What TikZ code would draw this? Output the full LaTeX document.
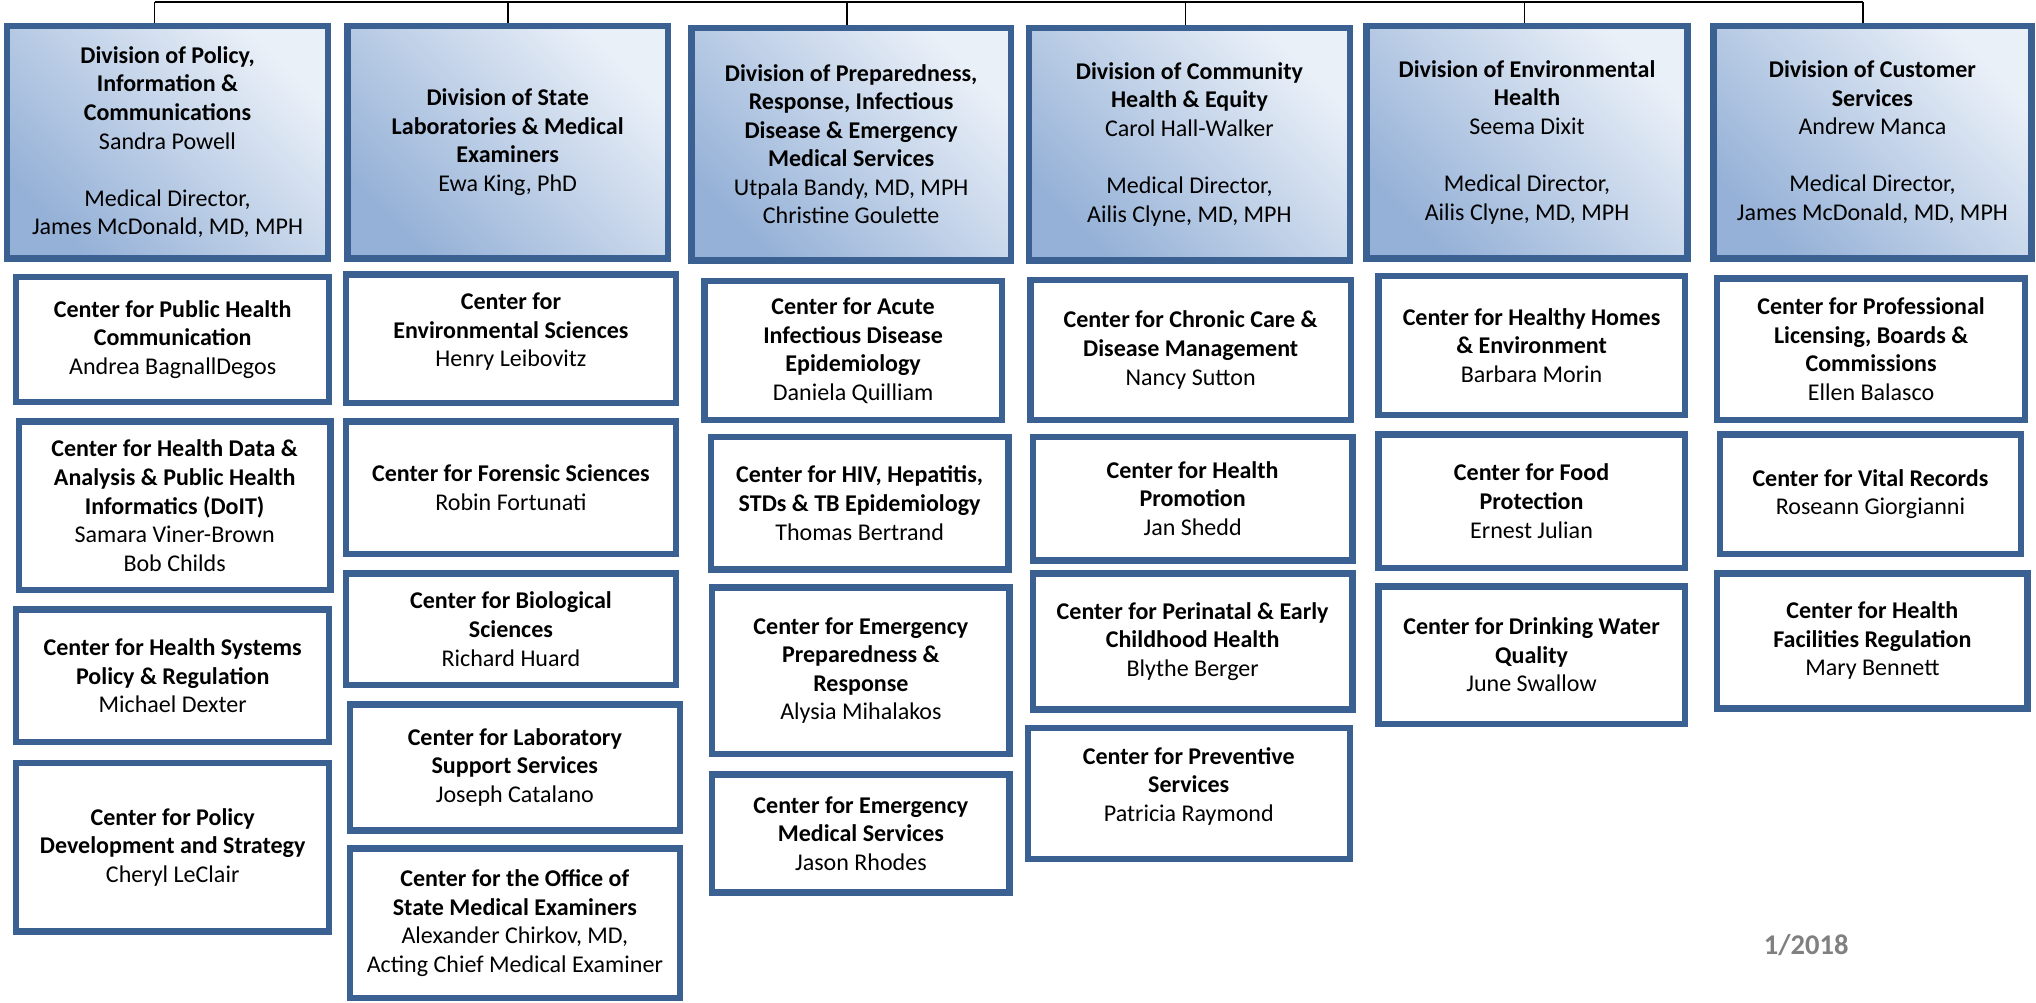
\documentclass[tikz,border=0pt]{standalone}
\usepackage{fontspec}
\setmainfont{Carlito}
\definecolor{bord}{HTML}{3B6092}
\definecolor{dtop}{HTML}{EAF0F8}
\definecolor{dbot}{HTML}{95B1D7}
\definecolor{dategray}{HTML}{808080}
\tikzset{
  boxbase/.style={draw=bord, line width=5pt, inner sep=0pt, align=center,
    font=\fontsize{18.5}{22}\selectfont},
  cbox/.style={boxbase, fill=white},
  dbox/.style={boxbase, top color=dtop, bottom color=dbot, shading angle=-45},
  conn/.style={draw=black, line width=1.4pt},
}
\newcommand\B[1]{\textbf{#1}}
% \obox[style]{name}{x1}{y1}{x2}{y2}{text}
\newcommand\obox[7][cbox]{%
  \node[#1, minimum width={#5-#3-5}, minimum height={#6-#4-5}] (#2)
    at ({(#3+#5)/2},{(#4+#6)/2}) {#7};}
\begin{document}
\begin{tikzpicture}[x=1pt,y=-1pt]
\useasboundingbox (0,0) rectangle (1568,771.7);

% Division boxes
\obox[dbox]{d1}{3}{17.5}{255}{201.5}{\B{Division of Policy,}\\\B{Information \&}\\\B{Communications}\\Sandra Powell\\[22pt]Medical Director,\\James McDonald, MD, MPH}
\obox[dbox]{d2}{265}{17.5}{517}{201.5}{\B{Division of State}\\\B{Laboratories \& Medical}\\\B{Examiners}\\Ewa King, PhD}
\obox[dbox]{d3}{530}{19}{781}{203}{\B{Division of Preparedness,}\\\B{Response, Infectious}\\\B{Disease \& Emergency}\\\B{Medical Services}\\Utpala Bandy, MD, MPH\\Christine Goulette}
\obox[dbox]{d4}{790}{19}{1042}{203}{\B{Division of Community}\\\B{Health \& Equity}\\Carol Hall-Walker\\[22pt]Medical Director,\\Ailis Clyne, MD, MPH}
\obox[dbox]{d5}{1050}{17.5}{1302}{201.5}{\B{Division of Environmental}\\\B{Health}\\Seema Dixit\\[22pt]Medical Director,\\Ailis Clyne, MD, MPH}
\obox[dbox]{d6}{1317}{17.5}{1567}{201.5}{\B{Division of Customer}\\\B{Services}\\Andrew Manca\\[22pt]Medical Director,\\James McDonald, MD, MPH}

% Connectors
\coordinate (t1) at (119,1.5);
\coordinate (t2) at (391,1.5);
\coordinate (t3) at (652,1.5);
\coordinate (t4) at (913,1.5);
\coordinate (t5) at (1174,1.5);
\coordinate (t6) at (1435,1.5);
\draw[conn] (t1) -- (t6);
\draw[conn] (t1) -- (t1 |- d1.north);
\draw[conn] (t2) -- (t2 |- d2.north);
\draw[conn] (t3) -- (t3 |- d3.north);
\draw[conn] (t4) -- (t4 |- d4.north);
\draw[conn] (t5) -- (t5 |- d5.north);
\draw[conn] (t6) -- (t6 |- d6.north);

% Column 1
\obox{c1a}{10}{211}{256}{312}{\B{Center for Public Health}\\\B{Communication}\\Andrea BagnallDegos}
\obox{c1b}{12}{322}{257}{457}{\B{Center for Health Data \&}\\\B{Analysis \& Public Health}\\\B{Informatics (DoIT)}\\Samara Viner-Brown\\Bob Childs}
\obox{c1c}{10}{467}{256}{574}{\B{Center for Health Systems}\\\B{Policy \& Regulation}\\Michael Dexter}
\obox{c1d}{10}{585}{256}{720}{\B{Center for Policy}\\\B{Development and Strategy}\\Cheryl LeClair}

% Column 2
\obox{c2a}{264}{209}{523}{313}{\B{Center for}\\\B{Environmental Sciences}\\Henry Leibovitz\\[-8pt]}
\obox{c2b}{264}{322}{523}{429}{\B{Center for Forensic Sciences}\\Robin Fortunati}
\obox{c2c}{264}{439}{523}{530}{\B{Center for Biological}\\\B{Sciences}\\Richard Huard}
\obox{c2d}{267}{540}{526}{642}{\B{Center for Laboratory}\\\B{Support Services}\\Joseph Catalano}
\obox{c2e}{267}{651}{526}{771}{\B{Center for the Office of}\\\B{State Medical Examiners}\\Alexander Chirkov, MD,\\Acting Chief Medical Examiner}

% Column 3
\obox{c3a}{540}{214}{774}{326}{\B{Center for Acute}\\\B{Infectious Disease}\\\B{Epidemiology}\\Daniela Quilliam}
\obox{c3b}{545}{334}{779}{441}{\B{Center for HIV, Hepatitis,}\\\B{STDs \& TB Epidemiology}\\Thomas Bertrand}
\obox{c3c}{546}{450}{780}{583}{\B{Center for Emergency}\\\B{Preparedness \&}\\\B{Response}\\Alysia Mihalakos}
\obox{c3d}{546}{594}{780}{690}{\B{Center for Emergency}\\\B{Medical Services}\\Jason Rhodes}

% Column 4
\obox{c4a}{791}{213}{1043}{326}{\B{Center for Chronic Care \&}\\\B{Disease Management}\\Nancy Sutton}
\obox{c4b}{793}{334}{1044}{434}{\B{Center for Health}\\\B{Promotion}\\Jan Shedd}
\obox{c4c}{793}{439}{1044}{549}{\B{Center for Perinatal \& Early}\\\B{Childhood Health}\\Blythe Berger}
\obox{c4d}{789}{558}{1042}{664}{\B{Center for Preventive}\\\B{Services}\\Patricia Raymond\\[-8pt]}

% Column 5
\obox{c5a}{1059}{210}{1300}{322}{\B{Center for Healthy Homes}\\\B{\& Environment}\\Barbara Morin}
\obox{c5b}{1059}{332}{1300}{440}{\B{Center for Food}\\\B{Protection}\\Ernest Julian}
\obox{c5c}{1059}{449}{1300}{560}{\B{Center for Drinking Water}\\\B{Quality}\\June Swallow}

% Column 6
\obox{c6a}{1320}{212}{1562}{326}{\B{Center for Professional}\\\B{Licensing, Boards \&}\\\B{Commissions}\\Ellen Balasco}
\obox{c6b}{1322}{332}{1559}{429}{\B{Center for Vital Records}\\Roseann Giorgianni}
\obox{c6c}{1320}{439}{1564}{548}{\B{Center for Health}\\\B{Facilities Regulation}\\Mary Bennett}

\node[font=\fontsize{22}{26}\selectfont\bfseries, text=dategray, inner sep=0pt] (date) at (1391,728) {1/2018};
\end{tikzpicture}
\end{document}
